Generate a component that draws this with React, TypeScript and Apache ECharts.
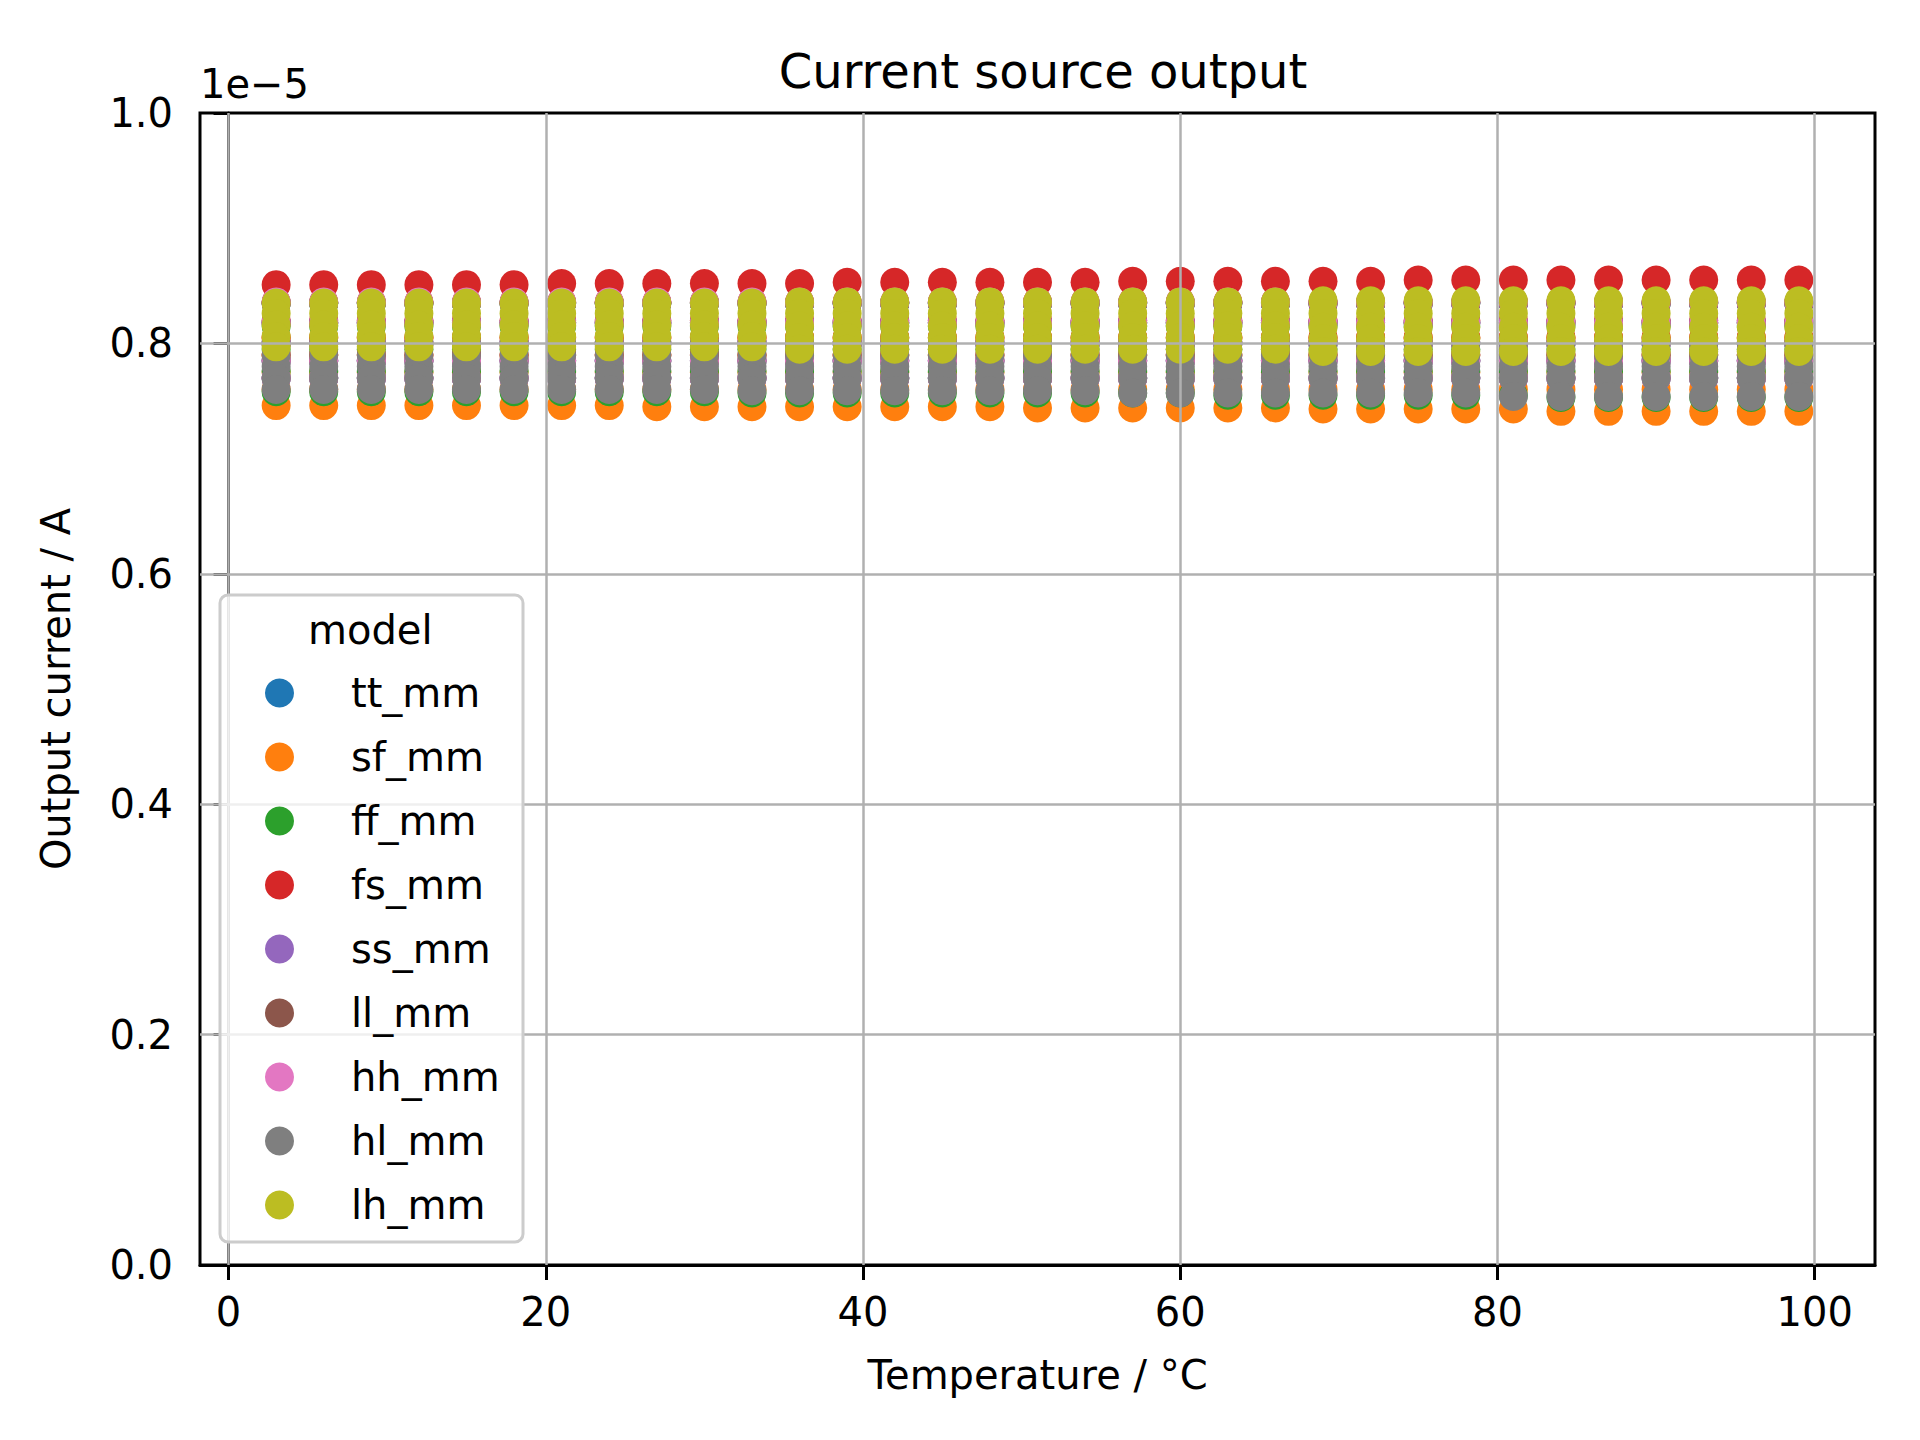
import * as echarts from 'echarts';
import { useEffect, useRef } from 'react';

// temperatures in °C
const temperatures = [3, 6, 9, 12, 15, 18, 21, 24, 27, 30, 33, 36, 39, 42, 45, 48, 51, 54, 57, 60, 63, 66, 69, 72, 75, 78, 81, 84, 87, 90, 93, 96, 99];
const yTicks = [0, 0.2, 0.4, 0.6, 0.8, 1.0];
const xTicks = [0, 20, 40, 60, 80, 100];

const models = ['tt_mm', 'sf_mm', 'ff_mm', 'fs_mm', 'ss_mm', 'll_mm', 'hh_mm', 'hl_mm', 'lh_mm'];
const colors = ['#1f77b4', '#ff7f0e', '#2ca02c', '#d62728', '#9467bd', '#8c564b', '#e377c2', '#7f7f7f', '#bcbd22'];

// output current in units of 1e-5 A, given as runs [value, count] over the 33 temperatures
type Runs = [number, number][];
const high: Runs[] = [
  [[0.835, 33]],
  [[0.805, 33]],
  [[0.835, 33]],
  [[0.851, 6], [0.852, 6], [0.853, 6], [0.854, 6], [0.855, 9]],
  [[0.835, 33]],
  [[0.835, 33]],
  [[0.836, 33]],
  [[0.800, 33]],
  [[0.835, 11], [0.836, 11], [0.837, 11]],
];
const upper: Runs[] = [
  [[0.818, 33]],
  [[0.790, 33]],
  [[0.815, 33]],
  [[0.836, 33]],
  [[0.818, 33]],
  [[0.818, 33]],
  [[0.818, 33]],
  [[0.790, 33]],
  [[0.826, 11], [0.826, 11], [0.826, 11]],
];
const middle: Runs[] = [
  [[0.800, 33]],
  [[0.775, 33]],
  [[0.795, 33]],
  [[0.820, 33]],
  [[0.800, 33]],
  [[0.800, 33]],
  [[0.800, 33]],
  [[0.780, 33]],
  [[0.816, 11], [0.815, 11], [0.814, 11]],
];
const lower: Runs[] = [
  [[0.785, 33]],
  [[0.760, 33]],
  [[0.776, 33]],
  [[0.805, 33]],
  [[0.785, 33]],
  [[0.785, 33]],
  [[0.785, 33]],
  [[0.770, 33]],
  [[0.806, 11], [0.805, 11], [0.804, 11]],
];
const low: Runs[] = [
  [[0.770, 33]],
  [[0.746, 8], [0.745, 8], [0.744, 6], [0.743, 5], [0.741, 6]],
  [[0.758, 10], [0.757, 10], [0.755, 7], [0.753, 6]],
  [[0.790, 33]],
  [[0.770, 33]],
  [[0.770, 33]],
  [[0.770, 33]],
  [[0.760, 10], [0.759, 8], [0.757, 8], [0.754, 7]],
  [[0.797, 11], [0.795, 11], [0.793, 11]],
];

const expand = (runs: Runs) => runs.flatMap(([v, n]) => Array(n).fill(v) as number[]);

const FONT = 'DejaVu Sans';

export default function App() {
  const ref = useRef<HTMLDivElement>(null);

  useEffect(() => {
    document.body.style.margin = '0';
    const el = ref.current;
    if (!el) return undefined;
    const chart = echarts.init(el, undefined, { renderer: 'svg' });

    const series: any[] = models.map((name, i) => {
      const levels = [high[i], upper[i], middle[i], lower[i], low[i]].map(expand);
      return {
        name,
        type: 'scatter',
        symbolSize: 29,
        itemStyle: { color: colors[i], opacity: 1 },
        emphasis: { disabled: true },
        data: levels.flatMap((vals) => temperatures.map((t, k) => [t, vals[k]])),
        z: 2,
      };
    });
    // grid lines drawn above the markers, as in the source plot
    series.push({
      type: 'scatter',
      data: [],
      silent: true,
      z: 5,
      markLine: {
        symbol: 'none',
        silent: true,
        label: { show: false },
        lineStyle: { color: '#b0b0b0', width: 2.5, type: 'solid' },
        data: [
          ...xTicks.map((x) => ({ xAxis: x })),
          ...yTicks.slice(1, -1).map((y) => ({ yAxis: y })),
        ],
      },
    });

    chart.setOption({
      animation: false,
      textStyle: { fontFamily: FONT },
      title: {
        text: 'Current source output',
        left: 1038,
        top: 42,
        textAlign: 'center',
        textStyle: { fontFamily: FONT, fontSize: 48, fontWeight: 'normal', color: '#000' },
      },
      grid: {
        left: 200, right: 45, top: 113, bottom: 175,
        show: true, borderColor: '#000', borderWidth: 3, backgroundColor: 'transparent',
      },
      xAxis: {
        type: 'value',
        min: -1.8,
        max: 103.8,
        name: 'Temperature / °C',
        nameLocation: 'middle',
        nameGap: 90,
        nameTextStyle: { fontFamily: FONT, fontSize: 40, color: '#000' },
        axisLine: { show: true, onZero: false, lineStyle: { color: '#000', width: 3 } },
        axisTick: { show: true, length: 15, lineStyle: { color: '#000', width: 3 }, customValues: xTicks },
        axisLabel: { fontFamily: FONT, fontSize: 40, color: '#000', margin: 27, customValues: xTicks },
        splitLine: { show: false },
      },
      yAxis: {
        type: 'value',
        min: 0,
        max: 1,
        interval: 0.2,
        name: 'Output current / A',
        nameLocation: 'middle',
        nameGap: 124,
        nameTextStyle: { fontFamily: FONT, fontSize: 40, color: '#000' },
        axisLine: { show: true, lineStyle: { color: '#000', width: 3 } },
        axisTick: { show: true, length: 15, lineStyle: { color: '#000', width: 3 } },
        axisLabel: { fontFamily: FONT, fontSize: 40, color: '#000', margin: 27, formatter: (v: number) => v.toFixed(1) },
        splitLine: { show: false },
      },
      legend: {
        data: models.map((name) => ({ name, icon: 'circle' })),
        orient: 'vertical',
        left: 265,
        top: 672,
        padding: 0,
        itemWidth: 29,
        itemHeight: 29,
        itemGap: 22,
        selectedMode: false,
        textStyle: { fontFamily: FONT, fontSize: 40, lineHeight: 42, color: '#000', padding: [0, 0, 0, 52] },
        z: 11,
      },
      graphic: [
        {
          type: 'rect',
          z: 10,
          shape: { x: 220, y: 595, width: 303, height: 647, r: 8 },
          style: { fill: 'rgba(255,255,255,0.8)', stroke: '#cccccc', lineWidth: 3 },
        },
        {
          type: 'text',
          z: 11,
          left: 308,
          top: 610,
          style: { text: 'model', fontFamily: FONT, fontSize: 40, fill: '#000' },
        },
        {
          type: 'text',
          left: 200,
          top: 64,
          style: { text: '1e\u22125', fontFamily: FONT, fontSize: 40, fill: '#000' },
        },
      ],
      series,
    });

    return () => chart.dispose();
  }, []);

  return <div ref={ref} style={{ width: 1920, height: 1440, background: '#fff' }} />;
}
